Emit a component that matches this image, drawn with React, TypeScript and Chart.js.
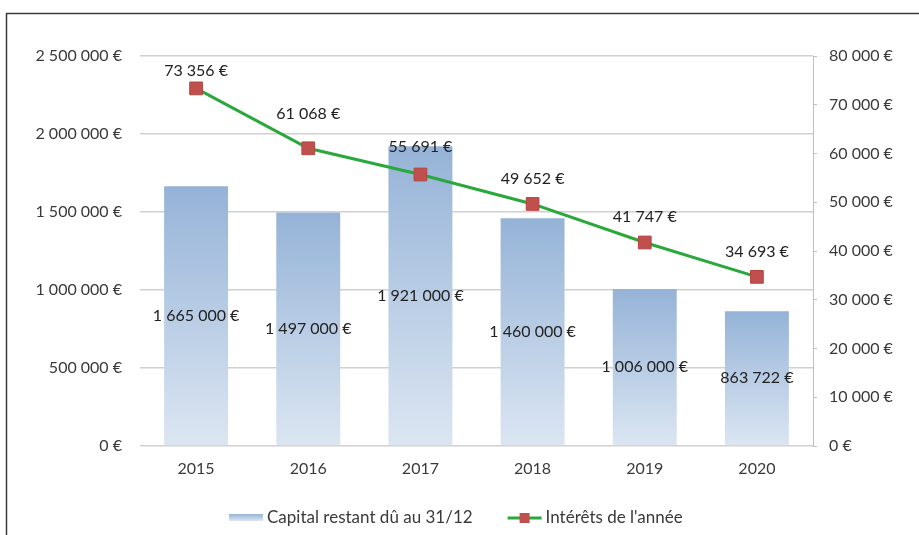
import React, { useEffect, useRef } from "react";
import { Chart, registerables } from "chart.js";

Chart.register(...registerables);

const years = ["2015", "2016", "2017", "2018", "2019", "2020"];
const capital = [1665000, 1497000, 1921000, 1460000, 1006000, 863722];
const interets = [73356, 61068, 55691, 49652, 41747, 34693];
const capitalLabel = "Capital restant dû au 31/12";
const interetsLabel = "Intérêts de l'année";
const capitalMax = 2500000;
const capitalStep = 500000;
const interetsMax = 80000;
const interetsStep = 10000;

// style: vertical offsets of the line's value labels above each point (px)
const lineLabelOffsets = [18, 34, 28, 25, 26, 25];

const FONT = "Lato, 'Liberation Sans', sans-serif";
const FONT_SIZE = 16;
const LEGEND_FONT_SIZE = 17;
const TICK_COLOR = "#3a3a3a";
const LABEL_COLOR = "#222222";
const GREEN = "#2aa83c";
const RED = "#c0504d";
const BLUE_TOP = "#95b3d7";
const BLUE_BOTTOM = "#dce6f2";

function fmt(v: number): string {
  return String(Math.round(v)).replace(/\B(?=(\d{3})+(?!\d))/g, " ") + " €";
}

const labelsPlugin = {
  id: "valueLabels",
  afterDatasetsDraw(chart: any) {
    const ctx = chart.ctx;
    ctx.save();
    ctx.font = `${FONT_SIZE}px ${FONT}`;
    ctx.fillStyle = LABEL_COLOR;
    ctx.textAlign = "center";
    ctx.textBaseline = "middle";
    chart.data.datasets.forEach((ds: any, di: number) => {
      const meta = chart.getDatasetMeta(di);
      meta.data.forEach((el: any, i: number) => {
        const v = ds.data[i];
        if (meta.type === "bar") {
          ctx.fillText(fmt(v), el.x, (el.y + el.base) / 2);
        } else {
          ctx.fillText(fmt(v), el.x, el.y - lineLabelOffsets[i]);
        }
      });
    });
    ctx.restore();
  },
};

const framePlugin = {
  id: "frameAndLegend",
  beforeDraw(chart: any) {
    const ctx = chart.ctx;
    ctx.save();
    ctx.fillStyle = "#ffffff";
    ctx.fillRect(0, 0, chart.width, chart.height);
    ctx.strokeStyle = "#3a3a3a";
    ctx.lineWidth = 1.5;
    ctx.beginPath();
    ctx.moveTo(6.5, chart.height);
    ctx.lineTo(6.5, 13.5);
    ctx.lineTo(chart.width, 13.5);
    ctx.stroke();
    ctx.restore();
  },
  afterDraw(chart: any) {
    const ctx = chart.ctx;
    ctx.save();
    ctx.font = `${LEGEND_FONT_SIZE}px ${FONT}`;
    ctx.textBaseline = "middle";
    ctx.textAlign = "left";
    const y = 517;
    const swatchW = 34;
    const gapText = 4;
    const gapItems = 35;
    const w1 = ctx.measureText(capitalLabel).width;
    const w2 = ctx.measureText(interetsLabel).width;
    const total = swatchW + gapText + w1 + gapItems + swatchW + gapText + w2;
    let x = Math.round(456 - total / 2);
    // bar swatch
    const g = ctx.createLinearGradient(0, y - 3, 0, y + 4);
    g.addColorStop(0, BLUE_TOP);
    g.addColorStop(1, BLUE_BOTTOM);
    ctx.fillStyle = g;
    ctx.fillRect(x, y - 3, swatchW, 7);
    x += swatchW + gapText;
    ctx.fillStyle = TICK_COLOR;
    ctx.fillText(capitalLabel, x, y + 1);
    x += w1 + gapItems;
    // line swatch
    ctx.strokeStyle = GREEN;
    ctx.lineWidth = 3;
    ctx.beginPath();
    ctx.moveTo(x, y + 1);
    ctx.lineTo(x + swatchW, y + 1);
    ctx.stroke();
    ctx.fillStyle = RED;
    ctx.fillRect(x + swatchW / 2 - 5, y - 4, 10, 10);
    x += swatchW + gapText;
    ctx.fillStyle = TICK_COLOR;
    ctx.fillText(interetsLabel, x, y + 1);
    ctx.restore();
  },
};

export default function App() {
  const ref = useRef<HTMLCanvasElement | null>(null);

  useEffect(() => {
    if (!ref.current) return;
    const tickFont = { family: FONT, size: FONT_SIZE };
    const chart = new Chart(ref.current, {
      type: "bar",
      data: {
        labels: years,
        datasets: [
          {
            type: "line",
            label: interetsLabel,
            data: interets,
            yAxisID: "y1",
            borderColor: GREEN,
            borderWidth: 3,
            tension: 0,
            pointStyle: "rect",
            pointRadius: 9,
            pointBackgroundColor: RED,
            pointBorderColor: "#b44541",
            pointBorderWidth: 1,
            order: 0,
          } as any,
          {
            type: "bar",
            label: capitalLabel,
            data: capital,
            yAxisID: "y",
            categoryPercentage: 0.57,
            barPercentage: 1,
            order: 1,
            backgroundColor: (c: any) => {
              const ch = c.chart;
              if (!ch.chartArea || c.type !== "data") return "#b9cde5";
              const ys = ch.scales.y;
              const top = ys.getPixelForValue(c.raw);
              const bottom = ys.getPixelForValue(0);
              const g = ch.ctx.createLinearGradient(0, top, 0, bottom);
              g.addColorStop(0, BLUE_TOP);
              g.addColorStop(1, BLUE_BOTTOM);
              return g;
            },
          } as any,
        ],
      },
      options: {
        responsive: false,
        animation: false,
        devicePixelRatio: 1,
        layout: { padding: { top: 56, left: 0, right: 0, bottom: 0 } },
        plugins: {
          legend: { display: false },
          tooltip: { enabled: false },
        },
        scales: {
          x: {
            grid: { display: false, drawTicks: false },
            border: { display: false },
            ticks: { color: TICK_COLOR, font: tickFont, padding: 13 },
            afterFit: (s: any) => {
              s.height = 89;
            },
          },
          y: {
            position: "left",
            min: 0,
            max: capitalMax,
            ticks: {
              stepSize: capitalStep,
              color: TICK_COLOR,
              font: tickFont,
              padding: 18,
              callback: (v: any) => fmt(Number(v)),
            },
            grid: { color: "#d0d0d0", lineWidth: 1.5, drawTicks: false },
            border: { display: false },
            afterFit: (s: any) => {
              s.width = 140;
            },
          },
          y1: {
            position: "right",
            min: 0,
            max: interetsMax,
            ticks: {
              stepSize: interetsStep,
              color: TICK_COLOR,
              font: tickFont,
              padding: 12,
              callback: (v: any) => fmt(Number(v)),
            },
            grid: {
              drawOnChartArea: false,
              drawTicks: true,
              tickLength: 4,
              color: "#bfbfbf",
            },
            border: { display: true, color: "#bfbfbf" },
            afterFit: (s: any) => {
              s.width = 106;
            },
          },
        },
      },
      plugins: [framePlugin, labelsPlugin],
    });
    return () => chart.destroy();
  }, []);

  return (
    <div style={{ position: "fixed", left: 0, top: 0, width: 919, height: 535, background: "#fff" }}>
      <canvas ref={ref} width={919} height={535} style={{ display: "block", width: 919, height: 535 }} />
    </div>
  );
}
